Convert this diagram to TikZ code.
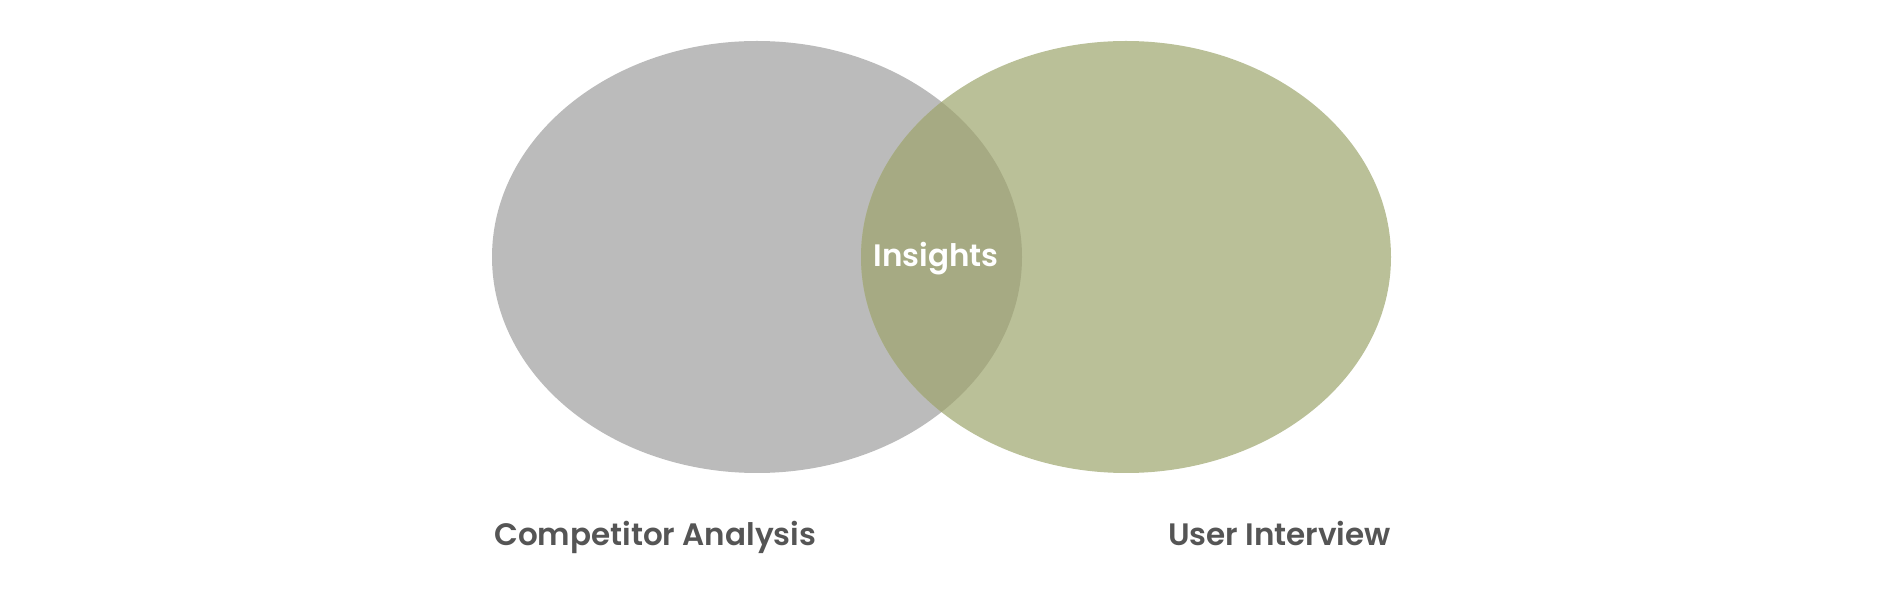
\documentclass[tikz,border=0pt]{standalone}
\usepackage{fontspec}
\newfontfamily\popsb{Poppins}[UprightFont={* SemiBold}]
\definecolor{cgray}{HTML}{BBBBBB}
\definecolor{colive}{HTML}{BAC098}
\definecolor{coverlap}{HTML}{A6AA83}
\definecolor{ctext}{HTML}{555555}
\tikzset{
  lbl/.style={font=\popsb\fontsize{31}{37}\selectfont, text=ctext, inner sep=0pt},
  inlbl/.style={font=\popsb\fontsize{31}{37}\selectfont, text=white, inner sep=0pt},
}
\begin{document}
\begin{tikzpicture}[x=1pt,y=1pt]
\useasboundingbox (0,0) rectangle (1880,600);
\fill[cgray] (757,343) ellipse [x radius=265, y radius=216];
\fill[colive] (1126,343) ellipse [x radius=265, y radius=216];
\begin{scope}
  \clip (757,343) ellipse [x radius=265, y radius=216];
  \fill[coverlap] (1126,343) ellipse [x radius=265, y radius=216];
\end{scope}
\node[inlbl, anchor=base] (ins) at (936,333) {Insights};
\node[lbl, anchor=base west] (ca) at (494,54) {Competitor Analysis};
\node[lbl, anchor=base east] (ui) at (1391,54) {User Interview};
\end{tikzpicture}
\end{document}
